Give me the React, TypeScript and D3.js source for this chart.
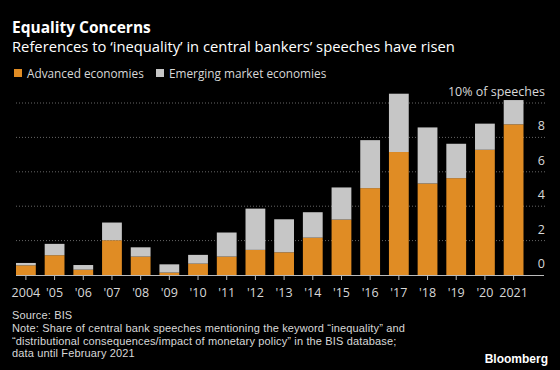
import React, { useEffect, useRef } from "react";
import * as d3 from "d3";

const years = ["2004", "'05", "'06", "'07", "'08", "'09", "'10", "'11", "'12", "'13", "'14", "'15", "'16", "'17", "'18", "'19", "'20", "2021"];
// share of speeches (%) - advanced economies (bottom) and total incl. emerging (top)
const advanced = [0.56, 1.15, 0.31, 2.02, 1.07, 0.14, 0.66, 1.07, 1.46, 1.32, 2.17, 3.22, 5.05, 7.15, 5.32, 5.63, 7.28, 8.76];
const total = [0.7, 1.81, 0.58, 3.05, 1.61, 0.62, 1.17, 2.47, 3.86, 3.24, 3.65, 5.09, 7.84, 10.54, 8.58, 7.63, 8.8, 10.17];
const emerging = total.map((t, i) => t - advanced[i]);
const yTicks = [0, 2, 4, 6, 8, 10];

const ORANGE = "#e08c24";
const GREY = "#c6c6c6";
const FONT = "'Open Sans', sans-serif";
const NOTE_FONT = "'Liberation Sans', Arial, sans-serif";

export default function App() {
  const svgRef = useRef<SVGSVGElement>(null);
  const width = 560;
  const height = 370;

  useEffect(() => {
    const svg = d3.select(svgRef.current);
    svg.selectAll("*").remove();

    svg.append("rect").attr("width", width).attr("height", height).attr("fill", "#000");

    const x = d3.scaleBand().domain(years).range([16, 523.5]).paddingInner(0.31).paddingOuter(0);
    const y = d3.scaleLinear().domain([0, 10]).range([275, 103]);

    // gridlines
    svg
      .append("g")
      .selectAll("line")
      .data(yTicks.filter((d) => d > 0))
      .enter()
      .append("line")
      .attr("x1", 16)
      .attr("x2", 545)
      .attr("y1", (d) => y(d))
      .attr("y2", (d) => y(d))
      .attr("stroke", "#666")
      .attr("stroke-width", 1)
      .attr("stroke-dasharray", "1,2");

    // y labels, sit above the gridlines
    svg
      .append("g")
      .selectAll("text")
      .data(yTicks)
      .enter()
      .append("text")
      .attr("x", 545)
      .attr("y", (d) => y(d) - 7)
      .attr("text-anchor", "end")
      .attr("fill", "#d8d8d8")
      .attr("font-family", FONT)
      .attr("font-size", 12.5)
      .text((d) => (d === 10 ? "10% of speeches" : String(d)));

    const bars = svg.append("g");
    bars
      .selectAll("rect.adv")
      .data(advanced)
      .enter()
      .append("rect")
      .attr("class", "adv")
      .attr("x", (d, i) => x(years[i])!)
      .attr("y", (d) => y(d))
      .attr("width", x.bandwidth())
      .attr("height", (d) => y(0) - y(d))
      .attr("fill", ORANGE);

    bars
      .selectAll("rect.em")
      .data(emerging)
      .enter()
      .append("rect")
      .attr("class", "em")
      .attr("x", (d, i) => x(years[i])!)
      .attr("y", (d, i) => y(total[i]))
      .attr("width", x.bandwidth())
      .attr("height", (d) => y(0) - y(d))
      .attr("fill", GREY);

    // x axis
    const xAxis = svg.append("g");
    xAxis
      .append("line")
      .attr("x1", 16)
      .attr("x2", 544)
      .attr("y1", 275.5)
      .attr("y2", 275.5)
      .attr("stroke", "#bbb")
      .attr("stroke-width", 1);
    xAxis
      .selectAll("line.tick")
      .data(years)
      .enter()
      .append("line")
      .attr("class", "tick")
      .attr("x1", (d) => x(d)! + x.bandwidth() / 2)
      .attr("x2", (d) => x(d)! + x.bandwidth() / 2)
      .attr("y1", 275)
      .attr("y2", 280)
      .attr("stroke", "#bbb");
    xAxis
      .selectAll("text")
      .data(years)
      .enter()
      .append("text")
      .attr("x", (d) => x(d)! + x.bandwidth() / 2)
      .attr("y", 297)
      .attr("text-anchor", "middle")
      .attr("fill", "#d8d8d8")
      .attr("font-family", FONT)
      .attr("font-size", 12.5)
      .text((d) => d);

    // titles
    svg
      .append("text")
      .attr("x", 12)
      .attr("y", 33)
      .attr("fill", "#fff")
      .attr("font-family", FONT)
      .attr("font-weight", "bold")
      .attr("font-size", 15.5)
      .text("Equality Concerns");
    svg
      .append("text")
      .attr("x", 12)
      .attr("y", 52)
      .attr("fill", "#fff")
      .attr("font-family", FONT)
      .attr("font-size", 14.75)
      .text("References to \u2018inequality\u2019 in central bankers\u2019 speeches have risen");

    // legend
    const legend = [
      { label: "Advanced economies", color: ORANGE, x: 14 },
      { label: "Emerging market economies", color: GREY, x: 156 },
    ];
    const lg = svg.append("g");
    lg.selectAll("rect")
      .data(legend)
      .enter()
      .append("rect")
      .attr("x", (d) => d.x)
      .attr("y", 69)
      .attr("width", 8)
      .attr("height", 8)
      .attr("fill", (d) => d.color);
    lg.selectAll("text")
      .data(legend)
      .enter()
      .append("text")
      .attr("x", (d) => d.x + 13)
      .attr("y", 77.5)
      .attr("fill", "#d8d8d8")
      .attr("font-family", FONT)
      .attr("font-size", 11.8)
      .text((d) => d.label);

    // footnotes
    const notes = [
      { t: "Source: BIS", y: 319 },
      { t: "Note: Share of central bank speeches mentioning the keyword \u201cinequality\u201d and", y: 332 },
      { t: "\u201cdistributional consequences/impact of monetary policy\u201d in the BIS database;", y: 344.7 },
      { t: "data until February 2021", y: 357.4 },
    ];
    svg
      .append("g")
      .selectAll("text")
      .data(notes)
      .enter()
      .append("text")
      .attr("x", 12)
      .attr("y", (d) => d.y)
      .attr("fill", "#d8d8d8")
      .attr("font-family", NOTE_FONT)
      .attr("font-size", 11)
      .attr("letter-spacing", 0.15)
      .text((d) => d.t);

    svg
      .append("text")
      .attr("x", 548)
      .attr("y", 363)
      .attr("text-anchor", "end")
      .attr("fill", "#fff")
      .attr("font-family", NOTE_FONT)
      .attr("font-weight", "bold")
      .attr("font-size", 12)
      .text("Bloomberg");
  }, []);

  return (
    <svg
      ref={svgRef}
      width={width}
      height={height}
      style={{ position: "absolute", left: 0, top: 0, display: "block" }}
    />
  );
}
